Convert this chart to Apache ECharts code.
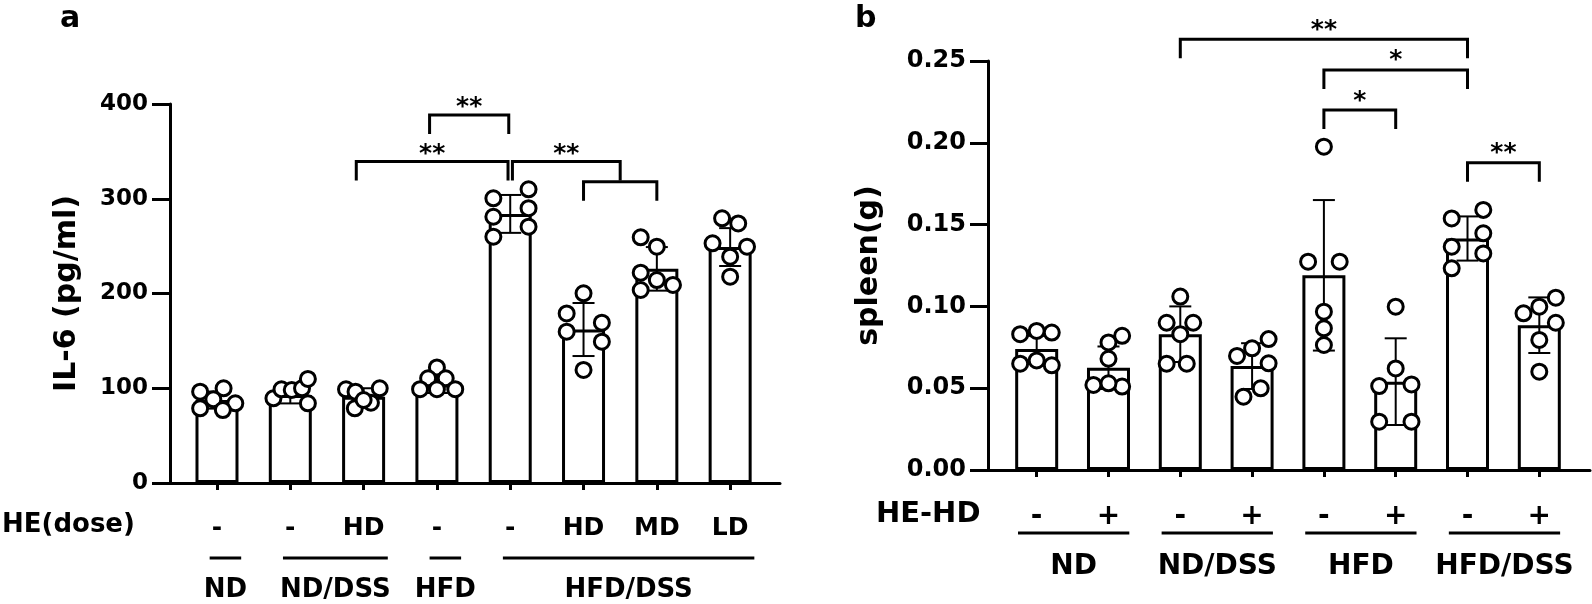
<!DOCTYPE html>
<html><head><meta charset="utf-8">
<script src="https://cdn.jsdelivr.net/npm/echarts@6/dist/echarts.min.js"></script>
<style>html,body{margin:0;padding:0;background:#fff}#c{width:1592px;height:604px}</style>
</head><body><div id="c"></div>
<script>
// ---------- Panel a data (IL-6, pg/ml) ----------
const doseA = ['-','-','HD','-','-','HD','MD','LD'];
const groupNamesA = ['ND','ND/DSS','HFD','HFD/DSS'];
const groupSpansA = [[0,0],[1,2],[3,3],[4,7]];
const yTicksA = [0,100,200,300,400];
const meanA = [87.5, 93, 91, 104, 284, 162, 226, 249];
const sdA = [9, 9, 9, 9, 20, 28, 23, 20];
const pointsA = [
  [96.4, 99.9, 88.3, 84.1, 78.8, 77.0],
  [89.4, 98.9, 98.2, 99.9, 109.8, 84.1],
  [98.9, 96.4, 99.9, 84.8, 78.8, 87.6],
  [122, 110.5, 110.5, 99, 99, 99],
  [300.5, 281, 260, 310, 290, 270.5],
  [200.2, 179, 159.7, 169.2, 149.2, 119.3],
  [259.3, 249.4, 222, 214.2, 203.7, 209],
  [279.3, 274, 253, 249.4, 238.8, 217.7]
];
const jitterA = [
  [-0.23, 0.09, -0.05, 0.25, -0.23, 0.08],
  [-0.23, -0.12, 0.02, 0.16, 0.24, 0.24],
  [-0.24, -0.11, 0.22, 0.10, -0.12, 0],
  [0, -0.12, 0.12, -0.23, 0, 0.25],
  [-0.23, -0.23, -0.23, 0.25, 0.25, 0.25],
  [0, -0.23, -0.23, 0.25, 0.25, 0],
  [-0.22, 0, -0.22, 0, -0.22, 0.22],
  [-0.11, 0.11, -0.24, 0.23, 0, 0]
];
// [from, to, y value, label]
const bracketsA = [
  [2.9, 3.98, 388.4, '**'],
  [1.9, 3.97, 339.3, '**'],
  [4.03, 5.5, 339.3, '**'],
  [5, 6, 318, '']
];

// ---------- Panel b data (spleen, g) ----------
const heHD = ['-','+','-','+','-','+','-','+'];
const groupNamesB = ['ND','ND/DSS','HFD','HFD/DSS'];
const groupSpansB = [[0,1],[2,3],[4,5],[6,7]];
const yTicksB = [0,0.05,0.10,0.15,0.20,0.25];
const meanB = [0.074, 0.0625, 0.083, 0.0635, 0.119, 0.054, 0.1415, 0.0885];
const sdB = [0.008, 0.013, 0.017, 0.014, 0.046, 0.0265, 0.0135, 0.017];
const pointsB = [
  [0.083, 0.085, 0.084, 0.065, 0.067, 0.064],
  [0.082, 0.078, 0.068, 0.052, 0.051, 0.053],
  [0.106, 0.090, 0.090, 0.083, 0.065, 0.065],
  [0.080, 0.0744, 0.0697, 0.0652, 0.0499, 0.0448],
  [0.1976, 0.1273, 0.1273, 0.0968, 0.0866, 0.0764],
  [0.0998, 0.0621, 0.0513, 0.0523, 0.0295, 0.0295],
  [0.159, 0.1538, 0.1447, 0.1365, 0.1324, 0.1233],
  [0.1053, 0.0998, 0.0958, 0.090, 0.0795, 0.0601]
];
const jitterB = [
  [-0.23, 0, 0.21, -0.23, 0, 0.21],
  [0.19, 0, 0, -0.21, 0.19, 0],
  [0, -0.19, 0.18, 0, -0.19, 0.09],
  [0.23, 0, -0.21, 0.23, 0.12, -0.12],
  [0, -0.22, 0.22, 0, 0, 0],
  [0, 0, -0.23, 0.22, -0.23, 0.22],
  [0.22, -0.22, 0.22, -0.22, 0.22, -0.22],
  [0.23, 0, -0.22, 0.23, 0, 0]
];
const bracketsB = [
  [2, 6, 0.2633, '**'],
  [4, 6, 0.2445, '*'],
  [4, 5, 0.220, '*'],
  [6, 7, 0.1878, '**']
];

// ---------- rendering ----------
const FONT = 'DejaVu Sans';
const chart = echarts.init(document.getElementById('c'));

function pointData(points, jitter) {
  const out = [];
  points.forEach((arr, i) => arr.forEach((v, k) => out.push([i + jitter[i][k], v])));
  return out;
}
function barData(means) { return means.map((m, i) => [i, m]); }
function errData(means, sds) { return means.map((m, i) => [i, m, sds[i]]); }

function errRender(params, api) {
  const x = api.value(0), m = api.value(1), s = api.value(2);
  const t = api.coord([x, m + s]), b = api.coord([x, m - s]);
  const hw = 11, st = {stroke: '#000', lineWidth: 2};
  return {type: 'group', children: [
    {type: 'line', shape: {x1: t[0], y1: t[1], x2: b[0], y2: b[1]}, style: st},
    {type: 'line', shape: {x1: t[0]-hw, y1: t[1], x2: t[0]+hw, y2: t[1]}, style: st},
    {type: 'line', shape: {x1: b[0]-hw, y1: b[1], x2: b[0]+hw, y2: b[1]}, style: st}
  ]};
}
function bracketRender(list, fontSize, textUp) {
  return function (params, api) {
    const br = list[params.dataIndex];
    const p1 = api.coord([br[0], br[2]]), p2 = api.coord([br[1], br[2]]);
    const leg = 19;
    const ch = [{type: 'polyline', shape: {points: [[p1[0], p1[1]+leg], [p1[0], p1[1]], [p2[0], p2[1]], [p2[0], p2[1]+leg]]},
      style: {stroke: '#000', fill: null, lineWidth: 3}}];
    if (br[3]) ch.push({type: 'text', style: {text: br[3], x: (p1[0]+p2[0])/2, y: p1[1]-textUp, align: 'center', verticalAlign: 'middle',
      font: 'bold ' + fontSize + 'px "' + FONT + '"', fill: '#000'}});
    return {type: 'group', children: ch};
  };
}
function labelRender(labels, dy, fontSize) {
  return function (params, api) {
    const p = api.coord([api.value(0), 0]);
    return {type: 'text', style: {text: labels[params.dataIndex], x: p[0], y: p[1] + dy, align: 'center', verticalAlign: 'middle',
      font: 'bold ' + fontSize + 'px "' + FONT + '"', fill: '#000'}};
  };
}
function groupRender(names, spans, padL, padR, lineDy, textDy, fontSize) {
  return function (params, api) {
    const sp = spans[params.dataIndex];
    const a = api.coord([sp[0] - padL, 0]), b = api.coord([sp[1] + padR, 0]);
    const y = a[1];
    return {type: 'group', children: [
      {type: 'line', shape: {x1: a[0], y1: y + lineDy, x2: b[0], y2: y + lineDy}, style: {stroke: '#000', lineWidth: 3}},
      {type: 'text', style: {text: names[params.dataIndex], x: (a[0]+b[0])/2, y: y + textDy, align: 'center', verticalAlign: 'middle',
        font: 'bold ' + fontSize + 'px "' + FONT + '"', fill: '#000'}}
    ]};
  };
}

const idx8 = doseA.map((d, i) => i);
function xAxis(gi, min, max) {
  return {type: 'value', gridIndex: gi, min: min, max: max,
    axisLine: {show: true, onZero: false, lineStyle: {color: '#000', width: 3}},
    axisTick: {show: true, customValues: idx8, length: 7, lineStyle: {color: '#000', width: 3}},
    axisLabel: {show: false}, splitLine: {show: false}};
}
function yAxis(gi, ticks, name, nameGap, fontSize, fmt) {
  return {type: 'value', gridIndex: gi, min: ticks[0], max: ticks[ticks.length-1], interval: ticks[1]-ticks[0],
    name: name, nameLocation: 'middle', nameGap: nameGap, nameRotate: 90,
    nameTextStyle: {fontFamily: FONT, fontWeight: 'bold', fontSize: 30, color: '#000'},
    axisLine: {show: true, onZero: false, lineStyle: {color: '#000', width: 3}},
    axisTick: {show: true, length: 18, lineStyle: {color: '#000', width: 3}},
    axisLabel: {margin: 22, fontFamily: FONT, fontWeight: 'bold', fontSize: fontSize, color: '#000', formatter: fmt},
    splitLine: {show: false}};
}
const barStyle = {color: '#fff', borderColor: '#000', borderWidth: 3};
const ptStyle = {color: '#fff', borderColor: '#000', borderWidth: 3, opacity: 1};

function panelSeries(gi, means, sds, points, jitter, brackets, brFont, brUp, labels, lblDy, lblFont,
                     gNames, gSpans, padL, padR, lineDy, gTextDy, gFont) {
  return [
    {type: 'bar', xAxisIndex: gi, yAxisIndex: gi, data: barData(means), barWidth: 43, itemStyle: barStyle, z: 2, silent: true},
    {type: 'custom', xAxisIndex: gi, yAxisIndex: gi, data: errData(means, sds), renderItem: errRender, z: 3, silent: true},
    {type: 'scatter', xAxisIndex: gi, yAxisIndex: gi, data: pointData(points, jitter), symbol: 'circle', symbolSize: 15,
      itemStyle: ptStyle, z: 4, silent: true},
    {type: 'custom', xAxisIndex: gi, yAxisIndex: gi, data: brackets.map(b => [b[0], b[2]]),
      renderItem: bracketRender(brackets, brFont, brUp), z: 5, silent: true, clip: false},
    {type: 'custom', xAxisIndex: gi, yAxisIndex: gi, data: labels.map((l, i) => [i, 0]),
      renderItem: labelRender(labels, lblDy, lblFont), z: 5, silent: true, clip: false},
    {type: 'custom', xAxisIndex: gi, yAxisIndex: gi, data: gSpans.map(s => [s[0], 0]),
      renderItem: groupRender(gNames, gSpans, padL, padR, lineDy, gTextDy, gFont), z: 5, silent: true, clip: false}
  ];
}

const option = {
  animation: false,
  backgroundColor: '#fff',
  grid: [
    {left: 170, top: 104, width: 610, height: 379, outerBoundsMode: 'none', containLabel: false},
    {left: 988, top: 61, width: 602, height: 409, outerBoundsMode: 'none', containLabel: false}
  ],
  xAxis: [xAxis(0, -0.641, 7.68), xAxis(1, -0.678, 7.706)],
  yAxis: [
    yAxis(0, yTicksA, 'IL-6 (pg/ml)', 88, 23, v => String(v)),
    yAxis(1, yTicksB, 'spleen(g)', 104, 24, v => v.toFixed(2))
  ],
  graphic: [
    {type: 'text', left: 60, top: 4, style: {text: 'a', font: 'bold 30px "' + FONT + '"', fill: '#000'}},
    {type: 'text', left: 855, top: 4, style: {text: 'b', font: 'bold 30px "' + FONT + '"', fill: '#000'}},
    {type: 'text', left: 2, top: 512, style: {text: 'HE(dose)', font: 'bold 26px "' + FONT + '"', fill: '#000'}},
    {type: 'text', left: 876, top: 500, style: {text: 'HE-HD', font: 'bold 29px "' + FONT + '"', fill: '#000'}}
  ],
  series: [].concat(
    panelSeries(0, meanA, sdA, pointsA, jitterA, bracketsA, 25, 7, doseA, 45, 25,
                groupNamesA, groupSpansA, 0.1, 0.33, 75, 107, 26),
    panelSeries(1, meanB, sdB, pointsB, jitterB, bracketsB, 25, 9, heHD, 47, 28,
                groupNamesB, groupSpansB, 0.26, 0.29, 63, 97, 28)
  )
};
chart.setOption(option);
</script>
</body></html>
